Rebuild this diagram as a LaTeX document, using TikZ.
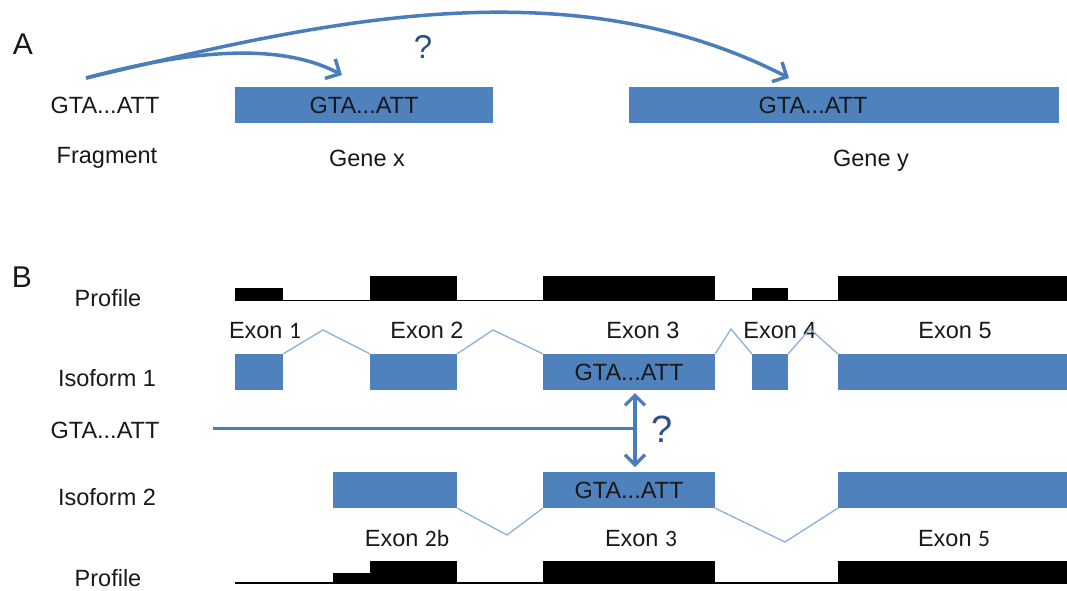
\documentclass[tikz,border=0pt]{standalone}
\usepackage{fontspec}
\setmainfont{Liberation Sans}
\newfontfamily\calib{Carlito}
\usetikzlibrary{arrows.meta}
\definecolor{barblue}{RGB}{79,129,189}
\definecolor{arrblue}{RGB}{74,126,187}
\definecolor{intron}{RGB}{141,176,219}
\definecolor{qblue}{RGB}{47,80,130}
\definecolor{txt}{RGB}{25,25,25}
\begin{document}
\begin{tikzpicture}[x=1pt,y=-1pt,
  lbl/.style={font=\fontsize{23.5}{26}\selectfont, text=txt, inner sep=0pt, text height=16.8pt, text depth=0pt},
  panel/.style={font=\fontsize{30}{32}\selectfont, text=txt, inner sep=0pt, text height=21.5pt, text depth=0pt},
  qmark/.style={font=\fontsize{#1}{#1}\selectfont, text=qblue, inner sep=0pt},
  bar/.style={lbl, fill=barblue, draw=none, minimum height=36pt, minimum width=#1},
  prof/.style={fill=black, draw=none},
  baseline/.style={draw=black, line width=1.6pt},
  intronline/.style={draw=intron, line width=1.3pt, line join=miter},
  conn/.style={draw=arrblue, line width=3.5pt, -{Straight Barb[length=11pt,width=22pt]}},
  link/.style={draw=arrblue, line width=3pt},
  dbl/.style={draw=arrblue, line width=3.3pt, {Straight Barb[length=10pt,width=20pt]}-{Straight Barb[length=10pt,width=20pt]}}
]
\useasboundingbox (0,0) rectangle (1067,590);
\fill[white] (0,0) rectangle (1067,590);

% ---------------- Panel A ----------------
\node[panel] (pA) at (23,44) {A};
\node[lbl] (frag) at (105,105.5) {GTA...ATT};
\node[lbl] (fraglbl) at (107,155) {Fragment};
\node[bar=258pt] (gx) at (364,105) {GTA...ATT};
\node[bar=430pt] (gy) at (844,105) {};
\node[lbl] (gytxt) at (813,105) {GTA...ATT};
\node[lbl] (gxlbl) at (367,158) {Gene x};
\node[lbl] (gylbl) at (871,158) {Gene y};
\node[qmark=33] (qA) at (423,47) {?};
\coordinate (s) at (86,78);
\coordinate (tx) at (342,75);
\coordinate (ty) at (789,78);
\draw[conn] (s) .. controls (300,28) and (560,-40) .. (ty);
\draw[conn] (s) .. controls (190,50) and (280,42) .. (tx);

% ---------------- Panel B ----------------
\node[panel] (pB) at (22,277) {B};
\node[lbl] (prof1) at (108,298) {Profile};
\node[lbl] (iso1) at (107,378) {Isoform 1};
\node[lbl] (fragB) at (105,430) {GTA...ATT};
\node[lbl] (iso2) at (107,497) {Isoform 2};
\node[lbl] (prof2) at (108,578) {Profile};

% top profile
\draw[baseline] (235,300.5) -- (1067,300.5);
\fill[prof] (235,288) rectangle (283,301);
\fill[prof] (370,276) rectangle (457,301);
\fill[prof] (543,276) rectangle (715,301);
\fill[prof] (752,288) rectangle (788,301);
\fill[prof] (838,276) rectangle (1067,301);

% exon labels top
\node[lbl] (e1) at (265,330) {Exon {\calib 1}};
\node[lbl] (e2) at (427,330) {Exon 2};
\node[lbl] (e3) at (643,330) {Exon 3};
\node[lbl] (e4) at (780,330) {Exon 4};
\node[lbl] (e5) at (955,330) {Exon 5};

% isoform 1
\node[bar=48pt] (i1a) at (259,372) {};
\node[bar=87pt] (i1b) at (413.5,372) {};
\node[bar=172pt] (i1c) at (629,372) {GTA...ATT};
\node[bar=36pt] (i1d) at (770,372) {};
\node[bar=229pt] (i1e) at (952.5,372) {};
\draw[intronline] (i1a.north east) -- (323,330) -- (i1b.north west);
\draw[intronline] (i1b.north east) -- (493,330) -- (i1c.north west);
\draw[intronline] (i1c.north east) -- (731,329) -- (i1d.north west);
\draw[intronline] (i1d.north east) -- (810,329) -- (i1e.north west);

% fragment link and question
\coordinate (hs) at (213,428);
\coordinate (hm) at (635,428);
\coordinate (vt) at (635,393);
\coordinate (vb) at (635,467);
\draw[link] (hs) -- (hm);
\draw[dbl] (vt) -- (vb);
\node[qmark=38] (qB) at (662,429) {?};

% isoform 2
\node[bar=124pt] (i2a) at (395,490) {};
\node[bar=172pt] (i2b) at (629,490) {GTA...ATT};
\node[bar=229pt] (i2c) at (952.5,490) {};
\draw[intronline] (i2a.south east) -- (507,535) -- (i2b.south west);
\draw[intronline] (i2b.south east) -- (785,542) -- (i2c.south west);

% exon labels bottom
\node[lbl] (f2) at (407,538) {Exon {\calib 2b}};
\node[lbl] (f3) at (641,538) {Exon {\calib 3}};
\node[lbl] (f5) at (954,538) {Exon {\calib 5}};

% bottom profile
\draw[baseline] (235,583) -- (1067,583);
\fill[prof] (333,573) rectangle (370,584);
\fill[prof] (370,561) rectangle (457,584);
\fill[prof] (543,561) rectangle (715,584);
\fill[prof] (838,561) rectangle (1067,584);
\end{tikzpicture}
\end{document}
